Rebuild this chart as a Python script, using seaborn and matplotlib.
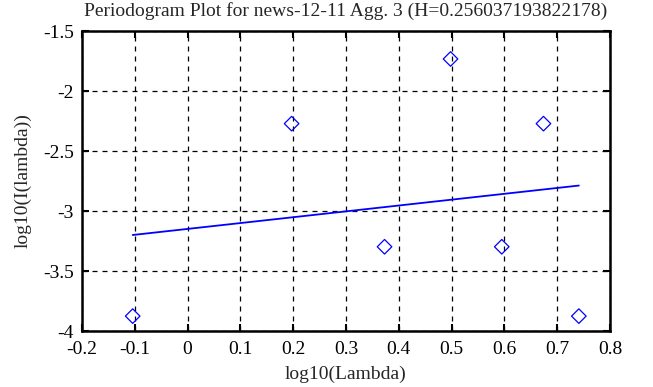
import matplotlib
matplotlib.use("Agg")
import matplotlib.pyplot as plt
import seaborn as sns
import pandas as pd

# Data
log_lambda = [-0.104, 0.197, 0.373, 0.498, 0.595, 0.674, 0.741]
log_I = [-3.876, -2.272, -3.298, -1.733, -3.298, -2.272, -3.876]
fit_x = [-0.104, 0.741]
fit_y = [-3.200, -2.788]
title = "Periodogram Plot for news-12-11 Agg. 3 (H=0.256037193822178)"
xticks = [-0.2, -0.1, 0, 0.1, 0.2, 0.3, 0.4, 0.5, 0.6, 0.7, 0.8]
xtick_labels = ["-0.2", "-0.1", "0", "0.1", "0.2", "0.3", "0.4", "0.5", "0.6", "0.7", "0.8"]
yticks = [-4, -3.5, -3, -2.5, -2, -1.5]
ytick_labels = ["-4", "-3.5", "-3", "-2.5", "-2", "-1.5"]

sns.set_style("white")
plt.rcParams["font.family"] = ["Liberation Serif", "DejaVu Serif"]

fig = plt.figure(figsize=(6.53, 3.87), dpi=100)
ax = fig.add_axes([82 / 653, 1 - 331 / 387, (610 - 82) / 653, (331 - 31) / 387])

pts = pd.DataFrame({"x": log_lambda, "y": log_I})
fit = pd.DataFrame({"x": fit_x, "y": fit_y})

sns.lineplot(data=fit, x="x", y="y", ax=ax, color="#0000ff", linewidth=1.3, zorder=3)
sns.scatterplot(data=pts, x="x", y="y", ax=ax, marker="D", s=55,
                facecolor="none", edgecolor="#0000ff", linewidth=0.9, zorder=4)

ax.set_xlim(-0.2, 0.8)
ax.set_ylim(-4, -1.5)
ax.set_xticks(xticks)
ax.set_xticklabels(xtick_labels)
ax.set_yticks(yticks)
ax.set_yticklabels(ytick_labels)

ax.grid(True, color="black", linestyle=(0, (4, 4)), linewidth=0.9)
ax.set_axisbelow(True)
for sp in ax.spines.values():
    sp.set_visible(True)
    sp.set_color("black")
    sp.set_linewidth(1.8)

ax.tick_params(axis="both", which="major", direction="in", length=5, width=1.5,
               top=True, right=True, bottom=True, left=True, labelsize=14,
               colors="black")
ax.tick_params(axis="x", pad=7)
ax.tick_params(axis="y", pad=6)

ax.set_xlabel("log10(Lambda)", fontsize=14, labelpad=6)
ax.set_ylabel("log10(I(lambda))", fontsize=14, labelpad=8)
ax.set_title(title, fontsize=14, pad=11)

fig.savefig("out.png", dpi=100)
